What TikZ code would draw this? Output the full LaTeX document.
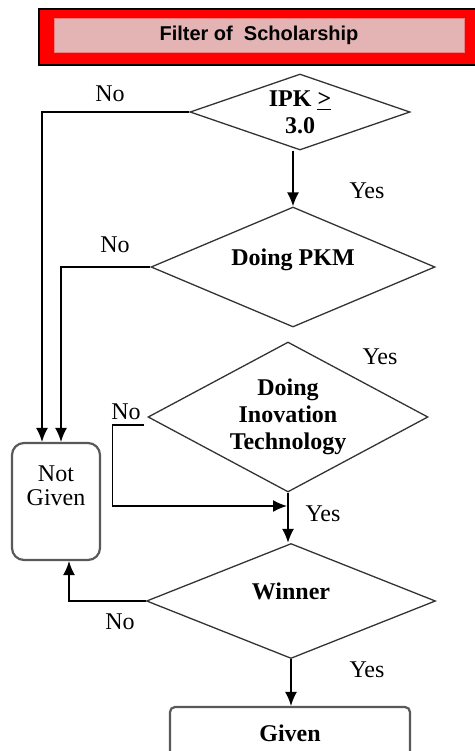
\documentclass[tikz,border=0pt]{standalone}
\usepackage{fontspec}
\setmainfont{Liberation Serif}
\setsansfont{Liberation Sans}
\usetikzlibrary{shapes.geometric}
\usetikzlibrary{arrows.meta}
\definecolor{headpink}{RGB}{228,180,180}

\begin{document}
\begin{tikzpicture}[x=0.5pt,y=-0.5pt,
decision/.style={diamond,draw=black!80,line width=0.65pt,inner sep=0pt,
font=\fontsize{12}{13.5}\selectfont\bfseries,align=center},
endbox/.style={rectangle,draw=black!65,line width=1.1pt,fill=white,inner sep=0pt},
answer/.style={inner sep=0pt,font=\fontsize{12}{14}\selectfont},
flow/.style={line width=0.8pt,-{Latex[length=7pt,width=6pt]}}]
\useasboundingbox (0,0) rectangle (475,751);

\node (head) [rectangle,fill=red,draw=black,line width=0.8pt,
minimum width=221pt,minimum height=28pt,anchor=north west] at (38,8) {};
\node (headtext) [fill=headpink,draw=red!30!headpink,line width=0.4pt,
minimum width=205pt,minimum height=17pt,inner sep=0pt,
font=\sffamily\bfseries\fontsize{10}{12}\selectfont] at (259,35)
{Filter of\ \ Scholarship};

\node (ipk) [decision,aspect=2.9,minimum width=110pt,minimum height=38pt] at (300,112)
{IPK \underline{>}\\3.0};
\node (pkm) [decision,aspect=2.37,minimum width=142pt,minimum height=60pt,
text height=8pt,text depth=10pt] at (293,267) {Doing PKM};
\node (ino) [decision,aspect=1.87,minimum width=140pt,minimum height=75pt] at (288,417)
{Doing\\Inovation\\Technology};
\node (win) [decision,aspect=2.5,minimum width=144.5pt,minimum height=57.5pt,
text height=8pt,text depth=10pt] at (291,601) {Winner};

\node (notgiven) [endbox,rounded corners=6pt,minimum width=44pt,minimum height=58.5pt]
at (56,501.5) {};
\node (notgivenlbl) [answer,align=center,font=\fontsize{12}{12}\selectfont] at (56,486)
{Not\\Given};
\node (given) [endbox,rounded corners=2.5pt,minimum width=120pt,minimum height=26pt,
font=\fontsize{12}{14}\selectfont\bfseries] at (290,733) {Given};

\coordinate (join) at (287,506);
\draw [flow] (ipk.west) -| ([xshift=-7pt]notgiven.north);
\draw [flow] (pkm.west) -| ([xshift=2.5pt]notgiven.north);
\draw [flow] (ipk.south -| pkm.north) -- (pkm.north);
\draw [flow] ([xshift=-1.5pt,yshift=-4pt]ino.west) -- ++(-32,0) |- (join);
\draw [flow] (ino.south) -- (ino.south |- win.north);
\draw [flow] (win.west) -| ([xshift=6.5pt]notgiven.south);
\draw [flow] (win.south) -- (win.south |- given.north);

\node (no1) [answer] at (110,94) {No};
\node (yes1) [answer] at (367,191) {Yes};
\node (no2) [answer] at (115,245) {No};
\node (yes2) [answer] at (380,357) {Yes};
\node (no3) [answer] at (126,412) {No};
\node (yes3) [answer] at (323,514) {Yes};
\node (no4) [answer] at (120,622) {No};
\node (yes4) [answer] at (367,670) {Yes};
\end{tikzpicture}
\end{document}
